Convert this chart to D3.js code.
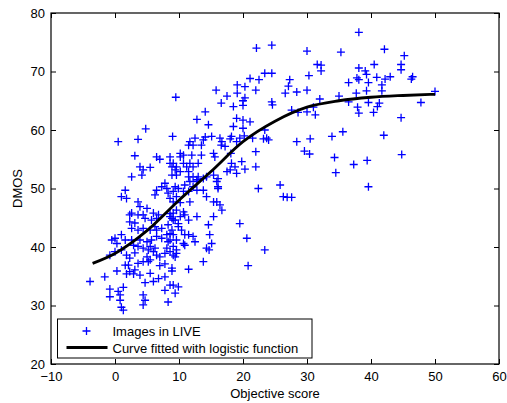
<!DOCTYPE html>
<html>
<head>
<meta charset="utf-8">
<script src="https://cdn.jsdelivr.net/npm/d3@7"></script>
<style>
body { margin:0; background:#fff; }
text { font-family: "Liberation Sans", Arial, sans-serif; }
.tick line { stroke:#000; }
.domain { display:none; }
</style>
</head>
<body>
<script>
var WIDTH = 507, HEIGHT = 403;
var MARGIN = {left:51, top:13, right:8, bottom:39};
var INNER_WIDTH = WIDTH - MARGIN.left - MARGIN.right;
var INNER_HEIGHT = HEIGHT - MARGIN.top - MARGIN.bottom;

var xTicks = [-10,0,10,20,30,40,50,60];
var yTicks = [20,30,40,50,60,70,80];

// objective score / DMOS of each image
var scoreX = [
 45.2,44.7,44.7,43.0,46.5,46.3,50.0,47.8,44.7,44.8,36.5,39.6,41.3,37.9,41.0,38.1,40.4,35.6,33.9,42.0,
 34.3,39.4,37.3,34.5,39.6,38.1,22.1,24.5,30.0,35.3,42.1,31.6,32.2,32.2,38.1,40.5,39.1,39.3,37.8,38.1,
 40.9,42.2,36.5,39.6,41.7,41.7,39.3,37.7,35.0,30.3,27.3,27.1,30.0,28.4,26.6,32.0,24.5,24.6,31.0,27.6,
 28.6,30.0,31.3,23.4,24.5,22.5,21.1,19.1,20.3,22.0,19.1,20.3,20.0,18.5,20.0,19.0,20.0,21.1,18.5,20.0,
 20.2,23.4,23.7,23.2,21.5,28.4,30.5,18.0,
 14.6,9.0,12.5,11.5,12.2,13.5,13.8,15.1,16.4,18.2,19.5,24.0,16.6,10.2,10.7,12.0,13.5,15.4,15.6,18.1,
 22.0,29.6,30.4,8.6,9.1,9.6,10.7,11.7,13.0,18.2,19.8,18.75,20.3,22.0,17.5,18.0,19.0,11.5,12.2,13.0,
 12.8,11.7,10.9,12.2,14.3,15.4,16.1,15.9,16.1,13.8,12.8,22.4,25.8,26.3,26.9,27.6,9.9,9.1,10.7,11.5,
 9.6,8.6,9.1,11.7,10.2,14.3,15.4,15.9,16.4,16.7,9.6,9.1,8.6,10.2,10.9,15.4,12.8,14.6,19.5,9.1,
 9.9,10.4,10.9,11.5,12.2,9.1,8.6,9.6,10.9,12.5,14.3,15.1,14.8,20.6,23.4,8.6,9.1,9.6,9.4,13.8,
 20.8,8.9,11.5,14.7,
 -1.6,0.3,1.8,2.3,2.9,2.1,1.6,3.9,3.6,4.4,5.2,5.5,4.7,6.0,6.8,7.8,7.0,7.8,8.9,-0.8,
 -0.8,0.5,0.8,1.3,0.8,1.0,1.3,4.4,4.4,7.8,8.6,9.1,9.4,8.3,-3.9,9.9,4.7,
 -0.8,0.0,1.0,1.8,2.3,3.1,5.2,6.0,6.5,5.5,5.0,7.0,7.8,9.1,3.1,
 1.6,1.0,1.8,3.6,6.25,7.8,8.1,8.3,9.4,5.0,3.9,2.6,2.3,3.6,4.4,6.0,6.8,6.5,8.9,9.4,
 2.3,3.1,3.6,4.4,5.5,6.5,7.3,8.3,8.6,-0.5,0.0,0.3,1.0,1.6,2.6,2.9,3.6,4.4,5.5,3.9,
 5.0,5.7,6.5,7.3,8.1,8.3,10.7,6.25,8.1,9.6,2.6,6.25,8.9,9.9,4.7,5.7,8.6,10.7,11.5,6.5,
 7.3,3.9,4.4,5.5,2.6,4.2,8.9,9.4,10.2,11.5,12.8,
 15.8,17.5,9.5,16.6,14.1,12.8,4.8,0.5,3.6,11.7,14.1,16.7,19.0,17.2,10.2,3.1,6.5,7.0,8.6,8.9,
 9.6,12.2,11.2,13.8,16.1
];
var dmosY = [
 72.7,71.2,70.3,69.1,69.1,68.7,66.6,64.7,62.1,55.8,64.8,64.7,64.6,63.9,64.0,62.9,63.0,59.7,58.9,59.1,
 55.3,54.8,54.1,52.7,50.3,76.7,74.0,74.5,73.5,73.3,73.8,71.2,71.1,70.1,70.6,71.2,70.1,69.5,68.9,68.6,
 69.0,68.7,68.1,68.1,67.7,66.7,66.7,66.3,65.8,69.3,68.6,67.5,66.8,66.5,66.3,65.3,64.8,64.3,63.9,63.4,
 63.0,63.1,62.6,69.7,69.7,68.6,68.8,67.7,67.4,66.8,66.3,65.5,65.0,64.0,64.2,62.0,61.7,61.4,60.6,60.3,
 59.0,60.0,58.6,58.5,58.6,58.0,58.5,58.5,
 60.9,58.9,58.6,57.4,57.4,57.4,58.3,58.9,58.6,58.9,58.6,58.3,57.4,56.0,55.7,55.7,55.7,56.0,55.4,56.0,
 56.3,56.4,55.9,55.4,54.3,53.7,54.3,54.3,54.3,54.3,54.6,53.7,53.3,53.7,52.9,53.2,52.6,52.0,52.0,52.0,
 51.2,51.2,50.6,50.3,52.0,52.3,51.7,51.2,50.0,49.7,49.7,50.0,50.6,48.6,48.5,48.5,50.0,49.5,49.5,49.5,
 48.6,48.3,47.7,47.7,47.6,48.6,47.7,47.7,47.2,46.3,46.3,45.8,45.2,45.2,45.5,45.2,45.2,43.8,44.0,44.6,
 43.5,42.9,42.1,42.1,41.8,42.1,41.2,41.2,40.3,40.9,39.8,40.6,42.1,41.5,39.5,39.2,38.6,38.9,38.3,37.5,
 36.8,36.4,36.2,39.5,
 34.9,35.9,35.4,35.8,35.4,36.9,36.9,35.2,37.2,37.5,37.5,35.5,33.9,34.1,34.6,34.9,36.8,37.1,35.9,32.8,
 31.5,32.4,31.8,33.1,30.9,29.7,29.2,31.8,30.1,32.6,33.5,33.5,32.1,30.6,34.1,33.2,30.9,
 38.6,39.2,39.5,38.6,38.1,39.0,39.5,39.2,38.6,37.8,38.3,38.3,38.9,40.1,36.1,
 49.7,48.6,48.3,47.7,48.9,50.9,50.0,49.2,50.3,46.6,46.9,45.8,45.5,45.5,45.5,45.8,45.5,44.9,44.9,44.6,
 44.3,44.1,42.9,43.2,42.9,42.9,43.2,43.8,42.3,41.2,41.5,40.6,42.1,41.2,41.2,40.3,40.1,39.8,40.1,41.2,
 40.9,41.2,41.8,41.5,42.1,40.9,40.6,39.8,39.8,39.5,43.2,43.5,42.9,44.0,44.9,44.6,45.7,46.0,44.6,49.7,
 50.3,53.7,53.2,53.6,52.0,52.3,53.7,53.2,52.9,52.9,51.5,
 66.8,65.8,65.6,64.6,63.1,61.8,60.2,58.0,58.4,58.0,58.8,58.0,58.0,57.2,55.4,55.6,55.4,55.0,54.3,52.3,
 52.3,53.7,53.7,51.7,50.3
];

// fitted logistic curve, sampled from the figure
var curveX = [-3.5,0,5,10,15,20,25,30,35,40,45,50];
var curveY = [37.2,38.9,42.8,48.0,52.9,58.0,61.5,63.9,65.0,65.6,65.9,66.1];

var legendLabels = ['Images in LIVE','Curve fitted with logistic function'];

var _xScale,_yScale,_svg;

var createChart = function(){
    _xScale = d3.scaleLinear()
        .domain([-10,60])
        .range([0,INNER_WIDTH]);

    _yScale = d3.scaleLinear()
        .domain([20,80])
        .range([INNER_HEIGHT,0]);

    _svg = d3.select('body').append('svg')
        .attr('width',WIDTH)
        .attr('height',HEIGHT);

    var g = _svg.append('g')
        .attr('transform','translate('+MARGIN.left+','+MARGIN.top+')');

    generateAxis(g);
    createPoints(g);
    createCurve(g);
    createLegend(g);
}

var generateAxis = function(g){
    g.append('g')
        .attr('transform','translate(0,'+INNER_HEIGHT+')')
        .style('font-size','13px')
        .call(d3.axisBottom(_xScale).tickValues(xTicks).tickSizeInner(-5).tickSizeOuter(0).tickPadding(8)
            .tickFormat(function(d){ return d < 0 ? '\u2212' + Math.abs(d) : d; }))
        .selectAll('text').attr('fill','#000').style('font-family','"Liberation Sans", Arial, sans-serif');

    g.append('g')
        .style('font-size','13px')
        .call(d3.axisLeft(_yScale).tickValues(yTicks).tickSizeInner(-5).tickSizeOuter(0).tickPadding(6))
        .selectAll('text').attr('fill','#000').style('font-family','"Liberation Sans", Arial, sans-serif');

    g.append('g')
        .call(d3.axisTop(_xScale).tickValues(xTicks).tickSizeInner(-5).tickSizeOuter(0).tickFormat(''));

    g.append('g')
        .attr('transform','translate('+INNER_WIDTH+',0)')
        .call(d3.axisRight(_yScale).tickValues(yTicks).tickSizeInner(-5).tickSizeOuter(0).tickFormat(''));

    g.append('rect')
        .attr('width',INNER_WIDTH)
        .attr('height',INNER_HEIGHT)
        .attr('fill','none')
        .attr('stroke','#000')
        .attr('stroke-width',1.2);

    g.append('text')
        .attr('x',INNER_WIDTH/2)
        .attr('y',INNER_HEIGHT+34)
        .attr('text-anchor','middle')
        .style('font-size','13px')
        .text('Objective score');

    g.append('text')
        .attr('transform','translate('+(-29)+','+(INNER_HEIGHT/2)+') rotate(-90)')
        .attr('text-anchor','middle')
        .style('font-size','13px')
        .text('DMOS');
}

var plusPath = 'M-4,0H4M0,-4V4';

var createPoints = function(g){
    var data = scoreX.map(function(x,i){ return {x:x, y:dmosY[i]}; });

    g.selectAll('path.pt').data(data)
        .enter()
        .append('path')
            .classed('pt',true)
            .attr('d',plusPath)
            .attr('transform',function(d){ return 'translate('+_xScale(d.x)+','+_yScale(d.y)+')'; })
            .attr('stroke','#0000ff')
            .attr('stroke-width',1.3)
            .attr('fill','none');
}

var createCurve = function(g){
    var data = curveX.map(function(x,i){ return {x:x, y:curveY[i]}; });

    var line = d3.line()
        .x(function(d){ return _xScale(d.x); })
        .y(function(d){ return _yScale(d.y); })
        .curve(d3.curveMonotoneX);

    g.append('path')
        .attr('d',line(data))
        .attr('fill','none')
        .attr('stroke','#000')
        .attr('stroke-width',2.8);
}

var createLegend = function(g){
    var lg = g.append('g')
        .attr('transform','translate('+(57.5-MARGIN.left)+','+(319-MARGIN.top)+')');

    lg.append('rect')
        .attr('width',254.5)
        .attr('height',39)
        .attr('fill','#fff')
        .attr('stroke','#000')
        .attr('stroke-width',1);

    lg.append('path')
        .attr('d',plusPath)
        .attr('transform','translate(29,12)')
        .attr('stroke','#0000ff')
        .attr('stroke-width',1.3);

    lg.append('line')
        .attr('x1',9).attr('x2',50)
        .attr('y1',28.5).attr('y2',28.5)
        .attr('stroke','#000')
        .attr('stroke-width',2.8);

    lg.selectAll('text').data(legendLabels)
        .enter()
        .append('text')
            .attr('x',55)
            .attr('y',function(d,i){ return 16.5 + i*17; })
            .style('font-size','13px')
            .text(function(d){ return d; });
}

createChart();
</script>
</body>
</html>
